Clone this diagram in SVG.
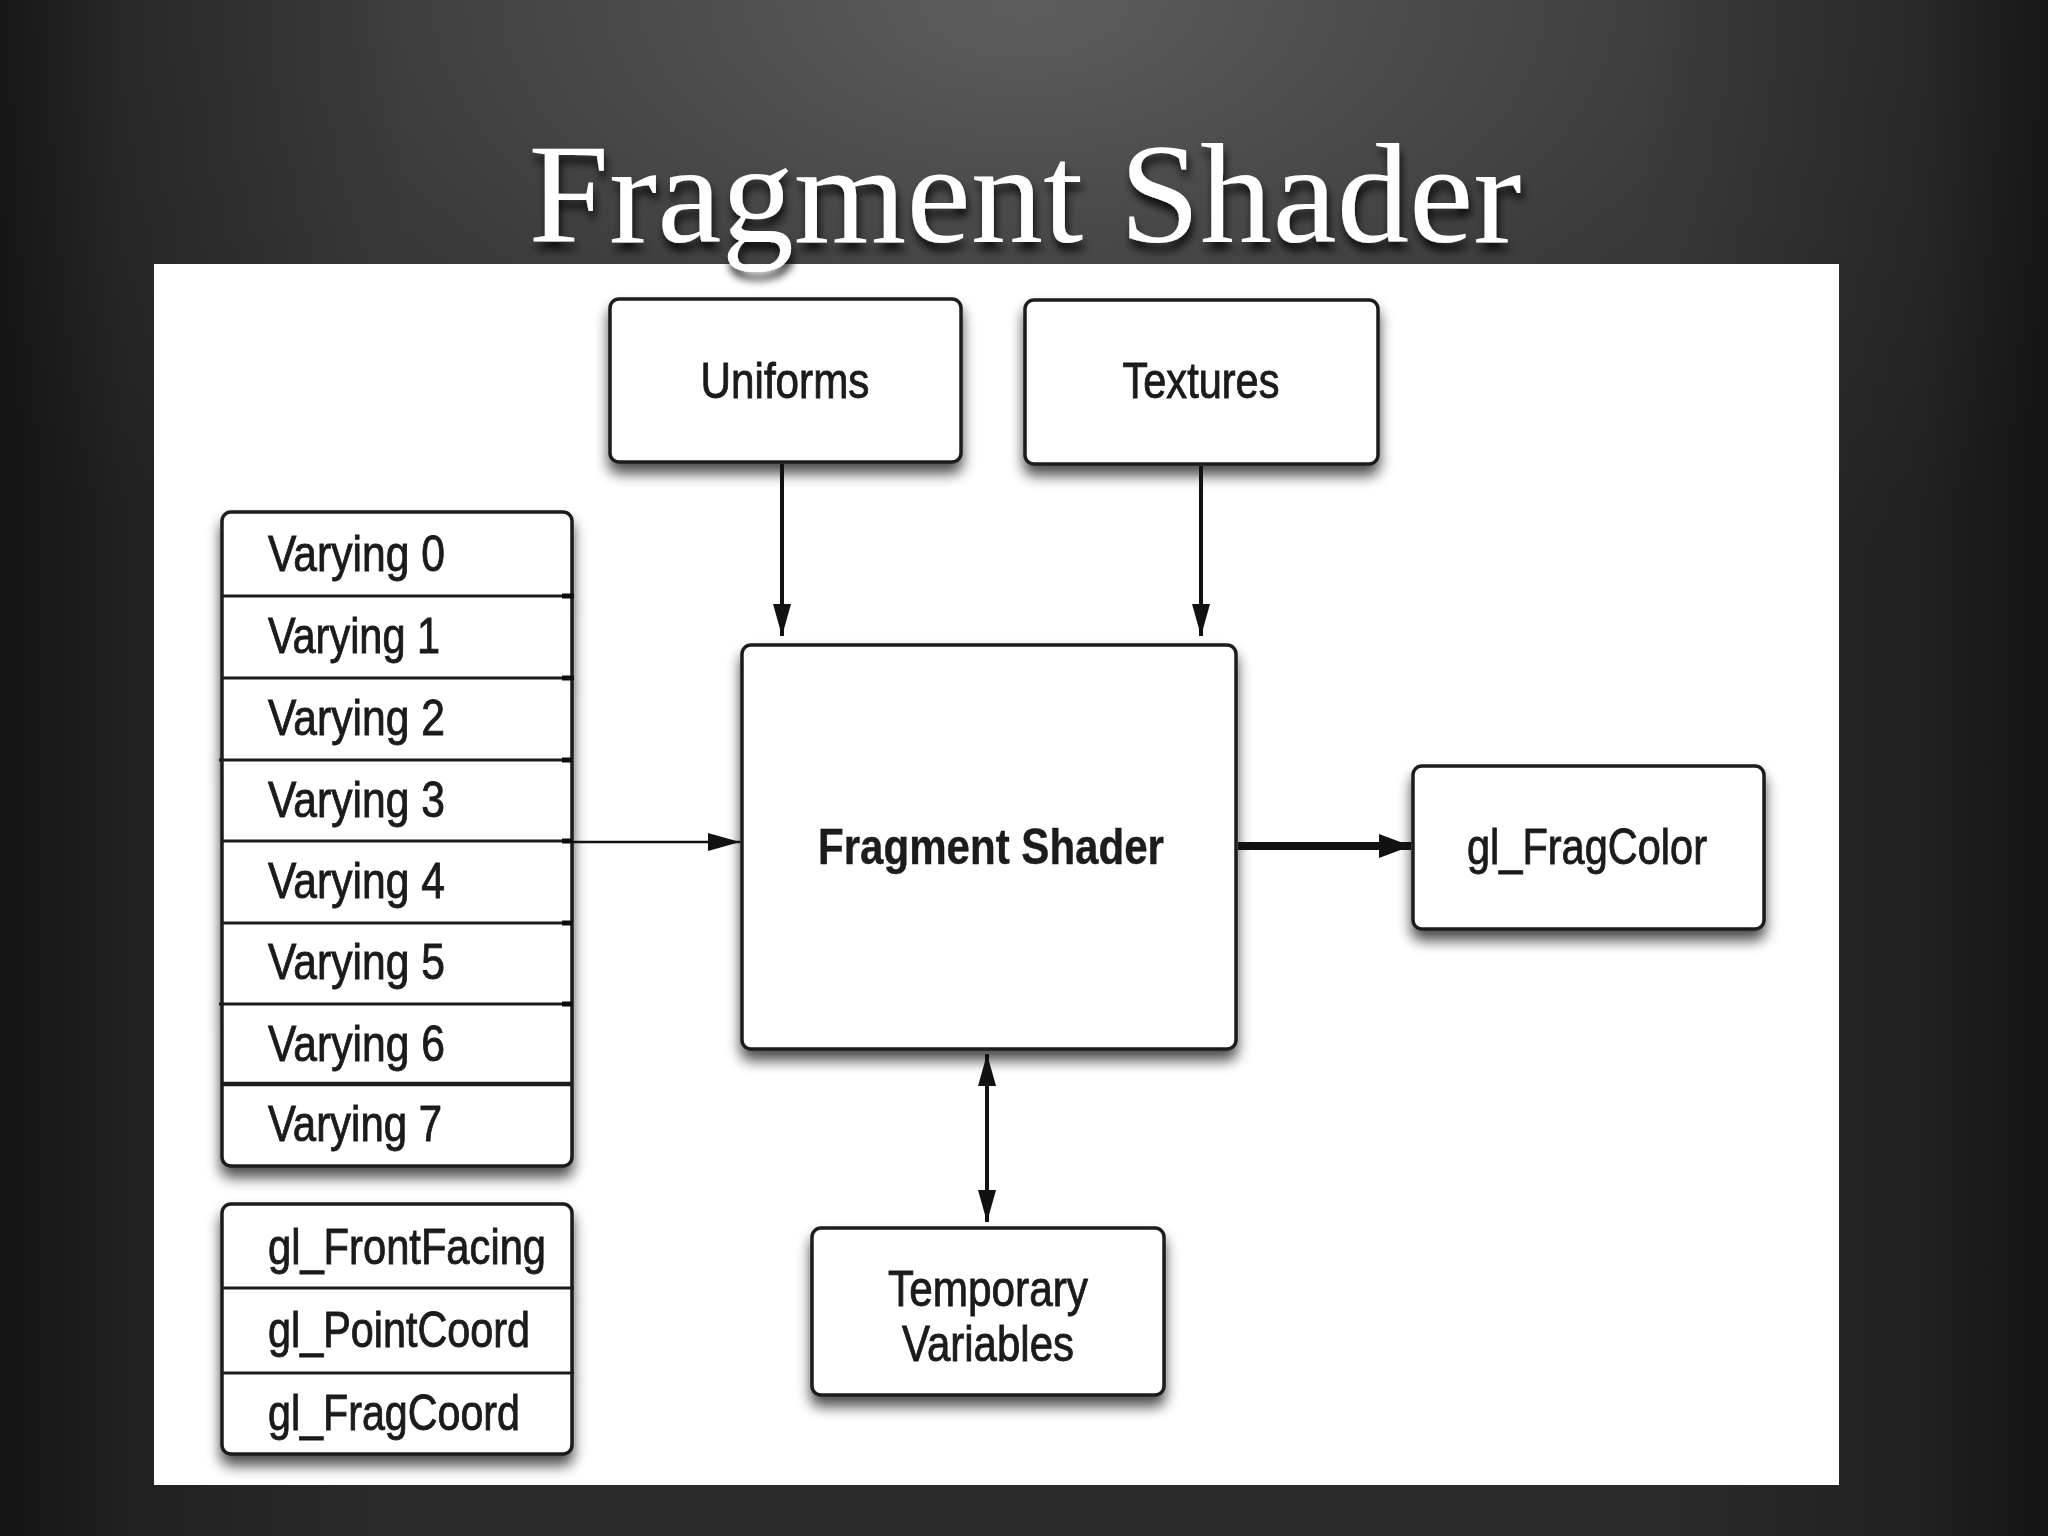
<svg xmlns="http://www.w3.org/2000/svg" width="2048" height="1536" viewBox="0 0 2048 1536">
<defs>
<radialGradient id="bg" cx="1024" cy="0" r="1300" gradientUnits="userSpaceOnUse" gradientTransform="translate(1024 0) scale(1 0.55) translate(-1024 0)">
<stop offset="0" stop-color="#5e5e5e"/>
<stop offset="0.55" stop-color="#3a3a3a"/>
<stop offset="1" stop-color="#2b2b2b"/>
</radialGradient>
<linearGradient id="edge" x1="0" y1="0" x2="1" y2="0">
<stop offset="0" stop-color="#000" stop-opacity="0.55"/>
<stop offset="0.06" stop-color="#000" stop-opacity="0.25"/>
<stop offset="0.2" stop-color="#000" stop-opacity="0"/>
<stop offset="0.8" stop-color="#000" stop-opacity="0"/>
<stop offset="0.94" stop-color="#000" stop-opacity="0.25"/>
<stop offset="1" stop-color="#000" stop-opacity="0.55"/>
</linearGradient>
<filter id="shadow" x="-10%" y="-10%" width="120%" height="130%">
<feGaussianBlur in="SourceAlpha" stdDeviation="7"/>
<feOffset dx="0" dy="10" result="b"/>
<feComponentTransfer><feFuncA type="linear" slope="0.7"/></feComponentTransfer>
<feMerge><feMergeNode/><feMergeNode in="SourceGraphic"/></feMerge>
</filter>
<filter id="tshadow" x="-5%" y="-20%" width="110%" height="150%">
<feGaussianBlur in="SourceAlpha" stdDeviation="4"/>
<feOffset dx="2" dy="8"/>
<feComponentTransfer><feFuncA type="linear" slope="0.8"/></feComponentTransfer>
<feMerge><feMergeNode/><feMergeNode in="SourceGraphic"/></feMerge>
</filter>
<marker id="ah" markerUnits="userSpaceOnUse" markerWidth="32" markerHeight="18" refX="32" refY="9" orient="auto-start-reverse">
<path d="M0,0 L32,9 L0,18 z" fill="#111"/>
</marker>
<marker id="ahbig" markerUnits="userSpaceOnUse" markerWidth="32" markerHeight="24" refX="32" refY="12" orient="auto">
<path d="M0,0 L32,12 L0,24 z" fill="#111"/>
</marker>
<style>
.box{fill:#fff;stroke:#1c1c1c;stroke-width:3.5}
.div{stroke:#1c1c1c;stroke-width:3}
.lbl{font-family:"Liberation Sans",Arial,sans-serif;font-size:50px;fill:#1a1a1a;stroke:#1a1a1a;stroke-width:0.9}
.ctr{text-anchor:middle}
.bold{font-weight:bold;stroke-width:0.4}
.con{stroke:#111;fill:none}
</style>
</defs>
<rect x="0" y="0" width="2048" height="1536" fill="url(#bg)"/>
<rect x="0" y="0" width="2048" height="1536" fill="url(#edge)"/>
<rect x="154" y="264" width="1685" height="1221" fill="#fff"/>
<text x="1025" y="242" font-family="Liberation Serif,'Times New Roman',serif" font-size="142" fill="#fff" text-anchor="middle" textLength="993" lengthAdjust="spacingAndGlyphs" filter="url(#tshadow)">Fragment Shader</text>

<g id="uniforms" filter="url(#shadow)">
<rect class="box" x="610" y="299" width="351" height="163" rx="9"/>
<text class="lbl ctr" x="785" y="398" textLength="169" lengthAdjust="spacingAndGlyphs">Uniforms</text>
</g>
<g id="textures" filter="url(#shadow)">
<rect class="box" x="1025" y="300" width="353" height="164" rx="9"/>
<text class="lbl ctr" x="1201" y="398" textLength="157" lengthAdjust="spacingAndGlyphs">Textures</text>
</g>
<g id="varyings" filter="url(#shadow)">
<rect class="box" x="222" y="512" width="350" height="654" rx="9"/>
<line class="div" x1="222" y1="596" x2="572" y2="596"/>
<line class="div" x1="222" y1="678" x2="572" y2="678"/>
<line class="div" x1="219" y1="760" x2="572" y2="760"/>
<line class="div" x1="222" y1="841" x2="572" y2="841"/>
<line class="div" x1="222" y1="923" x2="572" y2="923"/>
<line class="div" x1="219" y1="1004" x2="572" y2="1004"/>
<line class="div" x1="222" y1="1084" x2="572" y2="1084" style="stroke-width:4.5"/>
<path d="M562,596h12M562,678h12M562,760h10M562,841h10M562,923h10M562,1004h10" stroke="#111" stroke-width="5"/>
<text class="lbl" x="268" y="571" textLength="177" lengthAdjust="spacingAndGlyphs">Varying 0</text>
<text class="lbl" x="268" y="653" textLength="172" lengthAdjust="spacingAndGlyphs">Varying 1</text>
<text class="lbl" x="268" y="735" textLength="177" lengthAdjust="spacingAndGlyphs">Varying 2</text>
<text class="lbl" x="268" y="817" textLength="177" lengthAdjust="spacingAndGlyphs">Varying 3</text>
<text class="lbl" x="268" y="898" textLength="177" lengthAdjust="spacingAndGlyphs">Varying 4</text>
<text class="lbl" x="268" y="979" textLength="177" lengthAdjust="spacingAndGlyphs">Varying 5</text>
<text class="lbl" x="268" y="1061" textLength="177" lengthAdjust="spacingAndGlyphs">Varying 6</text>
<text class="lbl" x="268" y="1141" textLength="174" lengthAdjust="spacingAndGlyphs">Varying 7</text>
</g>
<g id="builtins" filter="url(#shadow)">
<rect class="box" x="222" y="1204" width="350" height="250" rx="9"/>
<line class="div" x1="222" y1="1288" x2="574" y2="1288"/>
<line class="div" x1="222" y1="1373" x2="574" y2="1373"/>
<text class="lbl" x="268" y="1264" textLength="278" lengthAdjust="spacingAndGlyphs">gl_FrontFacing</text>
<text class="lbl" x="268" y="1347" textLength="262" lengthAdjust="spacingAndGlyphs">gl_PointCoord</text>
<text class="lbl" x="268" y="1430" textLength="252" lengthAdjust="spacingAndGlyphs">gl_FragCoord</text>
</g>
<g id="fragment-shader" filter="url(#shadow)">
<rect class="box" x="742" y="645" width="494" height="404" rx="9"/>
<text class="lbl ctr bold" x="991" y="864" textLength="346" lengthAdjust="spacingAndGlyphs">Fragment Shader</text>
</g>
<g id="gl-fragcolor" filter="url(#shadow)">
<rect class="box" x="1413" y="766" width="351" height="163" rx="9"/>
<text class="lbl ctr" x="1587" y="864" textLength="240" lengthAdjust="spacingAndGlyphs">gl_FragColor</text>
</g>
<g id="temporary-variables" filter="url(#shadow)">
<rect class="box" x="812" y="1228" width="352" height="167" rx="9"/>
<text class="lbl ctr" x="988" y="1306" textLength="200" lengthAdjust="spacingAndGlyphs">Temporary</text>
<text class="lbl ctr" x="988" y="1361" textLength="172" lengthAdjust="spacingAndGlyphs">Variables</text>
</g>

<g id="connectors">
<line class="con" x1="782" y1="464" x2="782" y2="636" stroke-width="4" marker-end="url(#ah)"/>
<line class="con" x1="1201" y1="466" x2="1201" y2="636" stroke-width="4" marker-end="url(#ah)"/>
<line class="con" x1="572" y1="842" x2="740" y2="842" stroke-width="2.5" marker-end="url(#ah)"/>
<line class="con" x1="1238" y1="846" x2="1411" y2="846" stroke-width="8" marker-end="url(#ahbig)"/>
<line class="con" x1="987" y1="1054" x2="987" y2="1222" stroke-width="4" marker-start="url(#ah)" marker-end="url(#ah)"/>
</g>
</svg>
